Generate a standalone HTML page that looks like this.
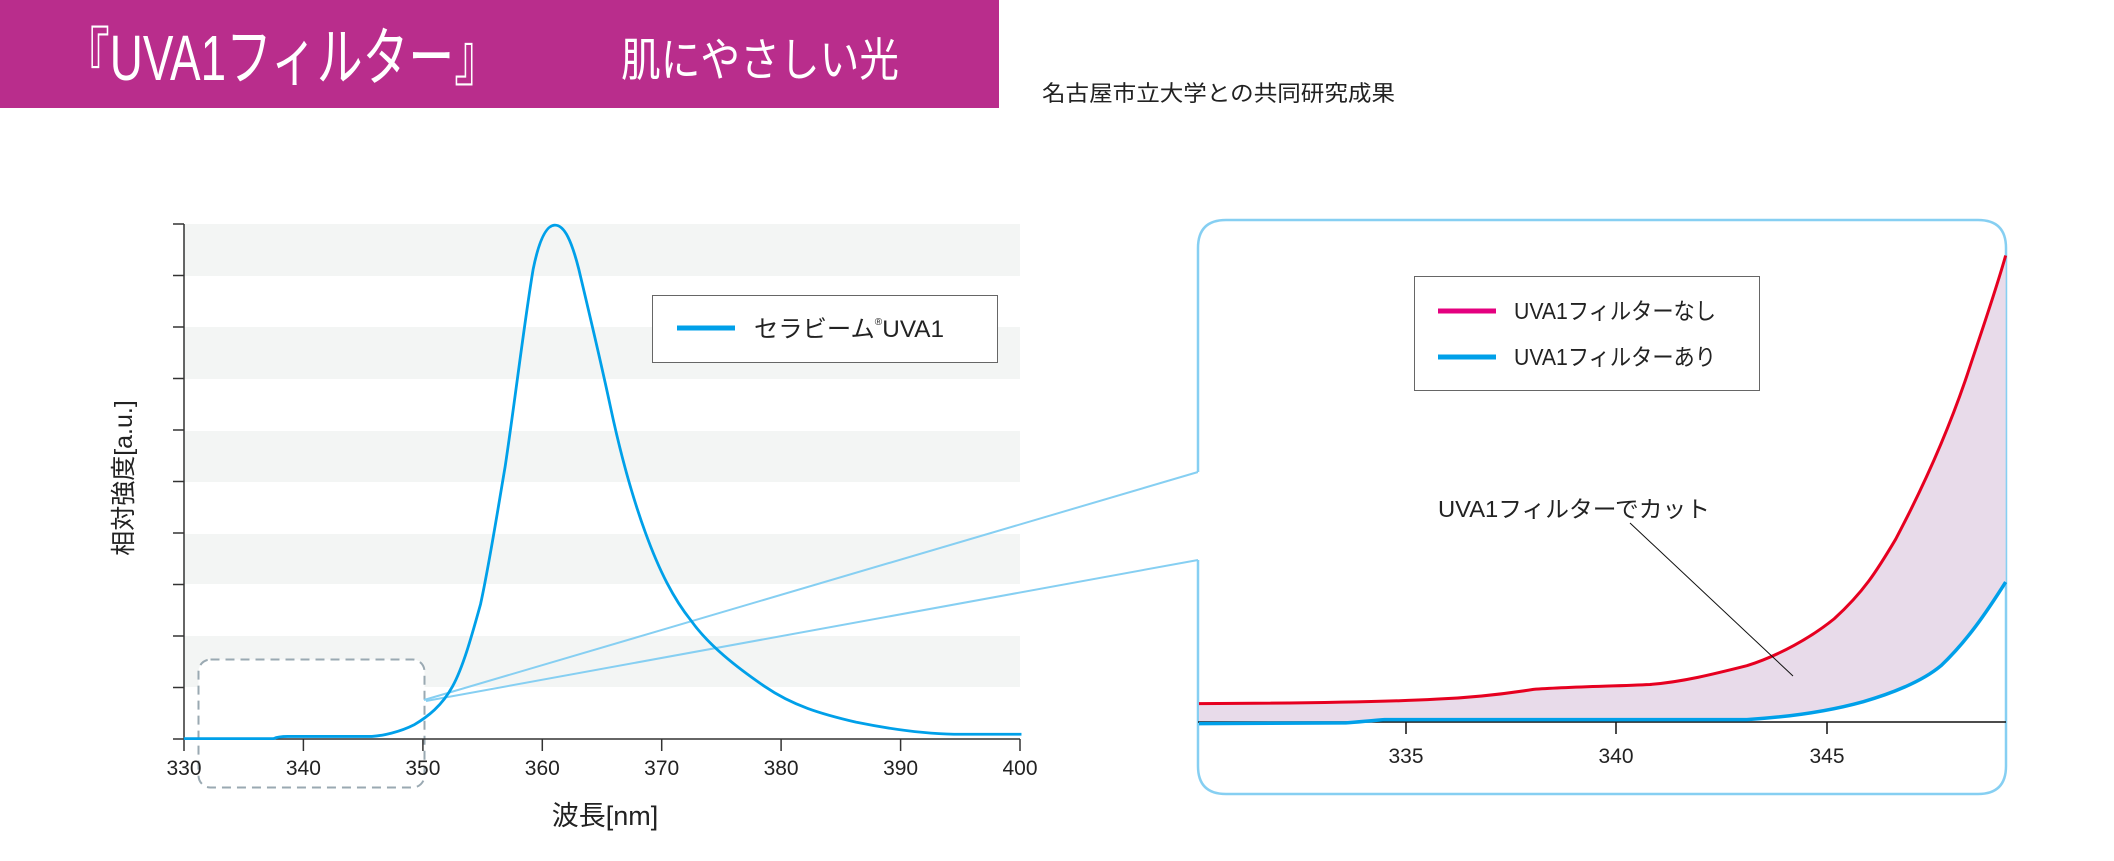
<!DOCTYPE html>
<html><head><meta charset="utf-8"><style>
html,body{margin:0;padding:0;background:#fff;}
body{width:2114px;height:861px;overflow:hidden;position:relative;font-family:"Liberation Sans","Noto Sans CJK JP",sans-serif;}
svg{position:absolute;left:0;top:0;}
text{font-family:"Liberation Sans","Noto Sans CJK JP",sans-serif;}
</style></head><body>
<svg width="2114" height="861" viewBox="0 0 2114 861">
<rect x="0" y="0" width="999" height="108" fill="#b92d8c"/>
<text x="64" y="80" font-size="64" fill="#fff" textLength="436" lengthAdjust="spacingAndGlyphs">『UVA1フィルター』</text>
<text x="621" y="76" font-size="46" fill="#fff" textLength="278" lengthAdjust="spacingAndGlyphs">肌にやさしい光</text>
<text x="1042" y="101" font-size="22" fill="#222" textLength="353" lengthAdjust="spacingAndGlyphs">名古屋市立大学との共同研究成果</text>

<g fill="#f3f5f4">
<rect x="184" y="224" width="836" height="52"/>
<rect x="184" y="327" width="836" height="52"/>
<rect x="184" y="431" width="836" height="51"/>
<rect x="184" y="534" width="836" height="50"/>
<rect x="184" y="636" width="836" height="51"/>
</g>
<rect x="198.5" y="659.5" width="226" height="128" rx="12" fill="#fff" stroke="#9aa9b2" stroke-width="2" stroke-dasharray="9,6"/>
<g stroke="#333" stroke-width="1.5">
<line x1="184" y1="224" x2="184" y2="739"/>
<line x1="173" y1="739" x2="1020" y2="739"/>
<line x1="173" y1="224" x2="184" y2="224"/><line x1="173" y1="275.5" x2="184" y2="275.5"/>
<line x1="173" y1="327" x2="184" y2="327"/><line x1="173" y1="378.5" x2="184" y2="378.5"/>
<line x1="173" y1="430" x2="184" y2="430"/><line x1="173" y1="481.5" x2="184" y2="481.5"/>
<line x1="173" y1="533" x2="184" y2="533"/><line x1="173" y1="584.5" x2="184" y2="584.5"/>
<line x1="173" y1="636" x2="184" y2="636"/><line x1="173" y1="687.5" x2="184" y2="687.5"/>
<line x1="184" y1="739" x2="184" y2="751"/><line x1="303.4" y1="739" x2="303.4" y2="751"/>
<line x1="422.9" y1="739" x2="422.9" y2="751"/><line x1="542.3" y1="739" x2="542.3" y2="751"/>
<line x1="661.7" y1="739" x2="661.7" y2="751"/><line x1="781.1" y1="739" x2="781.1" y2="751"/>
<line x1="900.6" y1="739" x2="900.6" y2="751"/><line x1="1020" y1="739" x2="1020" y2="751"/>
</g>
<g font-size="21" fill="#222" text-anchor="middle">
<text x="184" y="775">330</text><text x="303.4" y="775">340</text><text x="422.9" y="775">350</text>
<text x="542.3" y="775">360</text><text x="661.7" y="775">370</text><text x="781.1" y="775">380</text>
<text x="900.6" y="775">390</text><text x="1020" y="775">400</text>
</g>
<text x="605" y="825" font-size="27" fill="#222" text-anchor="middle">波長[nm]</text>
<text transform="translate(132,478) rotate(-90)" font-size="25" fill="#222" text-anchor="middle">相対強度[a.u.]</text>

<g stroke="#86cff2" stroke-width="2" fill="none">
<line x1="424" y1="700" x2="1198" y2="472"/>
<line x1="426" y1="701" x2="1198" y2="560"/>
</g>

<g transform="scale(0.70155,0.54917)">
<path fill="none" stroke="#00a0e9" stroke-width="2.8" vector-effect="non-scaling-stroke" d="M262,1345 L390,1345 C395,1342 400,1341 410,1341 L530,1341 C545,1340 570,1333 590,1320 C610,1305 630,1285 645,1250 C660,1215 672,1160 685,1100 C697,1030 708,940 720,850 C733,740 748,580 760,490 C768,440 778,410 791,410 C805,410 815,440 825,490 C838,560 855,650 870,740 C885,830 900,900 920,970 C940,1040 960,1090 985,1130 C1010,1175 1050,1215 1090,1250 C1130,1285 1170,1300 1220,1315 C1270,1328 1320,1336 1360,1337 L1456,1337"/>
</g>

<rect x="652.5" y="295.5" width="345" height="67" fill="#fff" stroke="#666" stroke-width="1"/>
<line x1="677" y1="328" x2="735" y2="328" stroke="#00a0e9" stroke-width="5"/>
<text x="754" y="337" font-size="24" fill="#222" textLength="190" lengthAdjust="spacingAndGlyphs">セラビーム<tspan font-size="10" dy="-12">®</tspan><tspan dy="12">UVA1</tspan></text>

<path d="M1198,472 L1198,248 Q1198,220 1226,220 L1978,220 Q2006,220 2006,248 L2006,766 Q2006,794 1978,794 L1226,794 Q1198,794 1198,766 L1198,560" fill="#fff" stroke="#86cff2" stroke-width="2.5"/>
<g transform="translate(1100,180) scale(0.6469,0.40816)">
<path fill="#e8dbea" d="M153,1283 C300,1282 450,1278 520,1272 C580,1268 630,1258 670,1248 C720,1242 800,1240 850,1236 C900,1230 950,1210 1000,1190 C1050,1165 1100,1120 1135,1075 C1180,1010 1200,960 1230,880 C1270,760 1310,620 1340,480 C1365,360 1385,270 1400,185 L1400,985 C1370,1060 1340,1130 1300,1190 C1270,1230 1220,1260 1180,1278 C1130,1300 1070,1315 1000,1322 L440,1322 C420,1324 400,1328 380,1330 L153,1332 Z"/>
<path fill="none" stroke="#e60020" stroke-width="3" vector-effect="non-scaling-stroke" d="M153,1283 C300,1282 450,1278 520,1272 C580,1268 630,1258 670,1248 C720,1242 800,1240 850,1236 C900,1230 950,1210 1000,1190 C1050,1165 1100,1120 1135,1075 C1180,1010 1200,960 1230,880 C1270,760 1310,620 1340,480 C1365,360 1385,270 1400,185"/>
</g>
<line x1="1198" y1="722" x2="2006" y2="722" stroke="#111" stroke-width="1.5"/>
<g transform="translate(1100,180) scale(0.6469,0.40816)">
<path fill="none" stroke="#00a0e9" stroke-width="3.5" vector-effect="non-scaling-stroke" d="M153,1332 L380,1330 C400,1328 420,1324 440,1322 L1000,1322 C1070,1315 1130,1300 1180,1278 C1220,1260 1270,1230 1300,1190 C1340,1130 1370,1060 1400,985"/>
</g>
<g stroke="#111" stroke-width="1.5">
<line x1="1406" y1="722" x2="1406" y2="734"/><line x1="1616" y1="722" x2="1616" y2="734"/><line x1="1827" y1="722" x2="1827" y2="734"/>
</g>
<g font-size="21" fill="#222" text-anchor="middle">
<text x="1406" y="763">335</text><text x="1616" y="763">340</text><text x="1827" y="763">345</text>
</g>
<rect x="1414.5" y="276.5" width="345" height="114" fill="#fff" stroke="#666" stroke-width="1"/>
<line x1="1438" y1="311" x2="1496" y2="311" stroke="#e4007f" stroke-width="5"/>
<line x1="1438" y1="357" x2="1496" y2="357" stroke="#00a0e9" stroke-width="5"/>
<text x="1514" y="319" font-size="23" fill="#222" textLength="202" lengthAdjust="spacingAndGlyphs">UVA1フィルターなし</text>
<text x="1514" y="365" font-size="23" fill="#222" textLength="202" lengthAdjust="spacingAndGlyphs">UVA1フィルターあり</text>
<text x="1438" y="517" font-size="23" fill="#222" textLength="272" lengthAdjust="spacingAndGlyphs">UVA1フィルターでカット</text>
<line x1="1630" y1="523" x2="1793" y2="676" stroke="#111" stroke-width="1"/>
</svg>
</body></html>
